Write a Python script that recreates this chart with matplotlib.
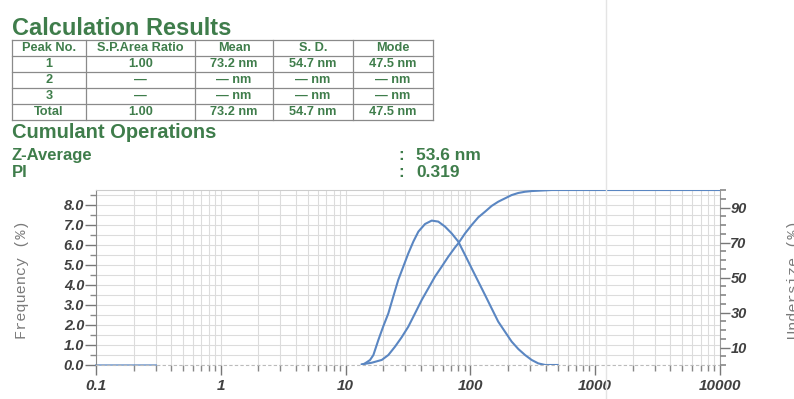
import matplotlib
matplotlib.use("Agg")
import matplotlib.pyplot as plt
from matplotlib.lines import Line2D
from matplotlib.ticker import FixedLocator, FixedFormatter, MultipleLocator, LogLocator, NullFormatter

# ---------------- data ----------------
table_header = ["Peak No.", "S.P.Area Ratio", "Mean", "S. D.", "Mode"]
table_rows = [
    ["1", "1.00", "73.2 nm", "54.7 nm", "47.5 nm"],
    ["2", "\u2014", "\u2014 nm", "\u2014 nm", "\u2014 nm"],
    ["3", "\u2014", "\u2014 nm", "\u2014 nm", "\u2014 nm"],
    ["Total", "1.00", "73.2 nm", "54.7 nm", "47.5 nm"],
]
z_average = "53.6 nm"
pi_value = "0.319"

freq_size = [13.5, 14.3, 15.7, 16.7, 18.3, 20.0, 22.0, 24.1, 26.4, 29.0, 31.8,
             34.9, 38.3, 43.3, 49.0, 55.3, 62.6, 70.8, 80.0, 90.6, 102.4, 115.7,
             131.0, 148.0, 167.0, 189.0, 214.0, 242.0, 274.0, 310.0, 350.0, 398.0, 500.0]
freq_pct = [0.0, 0.08, 0.25, 0.5, 1.25, 1.92, 2.58, 3.42, 4.25, 4.92, 5.58,
            6.17, 6.67, 7.05, 7.22, 7.17, 6.92, 6.58, 6.17, 5.5, 4.83, 4.17,
            3.5, 2.83, 2.17, 1.67, 1.17, 0.8, 0.5, 0.25, 0.08, 0.0, 0.0]

# flat zero segment of the frequency trace at the small-size end
base_size = [0.1, 0.3]
base_pct = [0.0, 0.0]

cum_size = [13.5, 16.2, 19.5, 22.0, 24.9, 28.1, 31.8, 36.0, 40.7, 46.0, 52.0,
            58.9, 66.5, 75.3, 80.0, 90.6, 102.4, 115.7, 131.0, 148.0, 167.0,
            189.0, 214.0, 242.0, 274.0, 310.0, 350.0, 450.0, 10000.0]
cum_pct = [0.4, 1.3, 2.9, 5.7, 10.5, 15.8, 21.9, 29.5, 37.1, 43.8, 50.5,
           56.2, 61.9, 67.2, 69.5, 75.2, 80.0, 84.4, 87.6, 90.9, 93.3,
           95.2, 97.1, 98.3, 99.0, 99.4, 99.6, 100.0, 100.0]

x_ticks = [0.1, 1, 10, 100, 1000, 10000]
x_ticklabels = ["0.1", "1", "10", "100", "1000", "10000"]
left_ticks = [0, 1, 2, 3, 4, 5, 6, 7, 8]
right_ticks = [10, 30, 50, 70, 90]

# ---------------- style ----------------
W, H = 794, 399
GREEN = "#3f7d4b"
BLUE = "#5a86c2"
TICKC = "#404040"
plt.rcParams["font.family"] = ["Liberation Sans", "DejaVu Sans"]

fig = plt.figure(figsize=(W / 100, H / 100), dpi=100)
fig.patch.set_facecolor("white")

def fx(x):
    return x / W

def fy(y):
    return 1 - y / H

# faint page line
fig.add_artist(Line2D([fx(606), fx(606)], [0, 1], color="#e4e4e4", lw=1.0))

# titles
fig.text(fx(12), fy(35), "Calculation Results", color=GREEN, fontsize=17,
         fontweight="bold", ha="left", va="baseline")
fig.text(fx(12), fy(138), "Cumulant Operations", color=GREEN, fontsize=14.5,
         fontweight="bold", ha="left", va="baseline")
fig.text(fx(12), fy(160), "Z-Average", color=GREEN, fontsize=12,
         fontweight="bold", ha="left", va="baseline")
fig.text(fx(12), fy(177), "PI", color=GREEN, fontsize=12,
         fontweight="bold", ha="left", va="baseline")
fig.text(fx(398), fy(160), ":", color=GREEN, fontsize=12, fontweight="bold",
         ha="left", va="baseline")
fig.text(fx(398), fy(177), ":", color=GREEN, fontsize=12, fontweight="bold",
         ha="left", va="baseline")
fig.text(fx(416), fy(160), z_average, color=GREEN, fontsize=12.5,
         fontweight="bold", ha="left", va="baseline")
fig.text(fx(416), fy(177), pi_value, color=GREEN, fontsize=12.5,
         fontweight="bold", ha="left", va="baseline")

# table
col_edges = [12, 86, 195, 273, 353, 433]
row_edges = [39.5, 55.5, 71.5, 87.5, 103.5, 119.5]
for xe in col_edges:
    fig.add_artist(Line2D([fx(xe), fx(xe)], [fy(row_edges[0]), fy(row_edges[-1])],
                          color="#8a8a8a", lw=0.9))
for ye in row_edges:
    fig.add_artist(Line2D([fx(col_edges[0]), fx(col_edges[-1])], [fy(ye), fy(ye)],
                          color="#8a8a8a", lw=0.9))
all_rows = [table_header] + table_rows
for r, row in enumerate(all_rows):
    yc = (row_edges[r] + row_edges[r + 1]) / 2 + 0.5
    for c, txt in enumerate(row):
        xc = (col_edges[c] + col_edges[c + 1]) / 2
        fig.text(fx(xc), fy(yc), txt, color=GREEN, fontsize=9.2, fontweight="bold",
                 ha="center", va="center")

# ---------------- chart ----------------
ax = fig.add_axes([fx(96), fy(365), fx(720) - fx(96), fy(190) - fy(365)])
ax.set_xscale("log")
ax.set_xlim(0.1, 10000)
ax.set_ylim(0, 8.75)

ax.xaxis.set_major_locator(FixedLocator(x_ticks))
ax.xaxis.set_major_formatter(FixedFormatter(x_ticklabels))
ax.xaxis.set_minor_locator(LogLocator(base=10, subs=range(2, 10), numticks=20))
ax.xaxis.set_minor_formatter(NullFormatter())
ax.yaxis.set_major_locator(FixedLocator(left_ticks))
ax.yaxis.set_major_formatter(FixedFormatter([f"{v:.1f}" for v in left_ticks]))
ax.yaxis.set_minor_locator(MultipleLocator(0.5))

ax.grid(True, which="both", axis="x", color="#dcdcdc", lw=0.8)
ax.grid(True, which="both", axis="y", color="#dcdcdc", lw=0.8)
ax.set_axisbelow(True)

ax.tick_params(axis="x", which="major", length=7, width=1, color="#777777",
               labelsize=11, labelcolor=TICKC, pad=3)
ax.tick_params(axis="x", which="minor", length=4, width=1, color="#888888")
ax.tick_params(axis="y", which="major", length=8, width=1, color="#777777",
               labelsize=10.5, labelcolor=TICKC, pad=0.5)
ax.tick_params(axis="y", which="minor", length=4, width=1, color="#888888")
for lab in ax.get_xticklabels() + ax.get_yticklabels():
    lab.set_fontstyle("italic")
    lab.set_fontweight("bold")

ax.spines["left"].set_color("#888888")
ax.spines["top"].set_color("#cccccc")
ax.spines["right"].set_color("#999999")
ax.spines["bottom"].set_color("#bbbbbb")
ax.spines["bottom"].set_linestyle((0, (2, 3)))

ax.plot(base_size, base_pct, color=BLUE, lw=1.3, alpha=0.7, clip_on=False)
ax.plot(freq_size, freq_pct, color=BLUE, lw=1.5, solid_joinstyle="round")

ax2 = ax.twinx()
ax2.set_ylim(0, 100)
ax2.yaxis.set_major_locator(FixedLocator(right_ticks))
ax2.yaxis.set_major_formatter(FixedFormatter([str(v) for v in right_ticks]))
ax2.yaxis.set_minor_locator(MultipleLocator(5))
ax2.tick_params(axis="y", which="major", length=7, width=1, color="#777777",
                labelsize=10.5, labelcolor=TICKC, pad=0.5)
ax2.tick_params(axis="y", which="minor", length=4, width=1.2, color="#888888")
for lab in ax2.get_yticklabels():
    lab.set_fontstyle("italic")
    lab.set_fontweight("bold")
for s in ax2.spines.values():
    s.set_visible(False)
ax2.plot(cum_size, cum_pct, color=BLUE, lw=1.5, solid_joinstyle="round")

# axis titles
fig.text(fx(22), fy(280), "Frequency (%)", rotation=90, color="#7a7a7a",
         fontsize=11, family=["Liberation Mono", "DejaVu Sans Mono"],
         ha="center", va="center")
fig.text(fx(787), fy(280), "Undersize (%)", rotation=90, color="#7a7a7a",
         fontsize=11, family=["Liberation Mono", "DejaVu Sans Mono"],
         ha="left", va="center")

fig.savefig("out.png", dpi=100, facecolor="white")
